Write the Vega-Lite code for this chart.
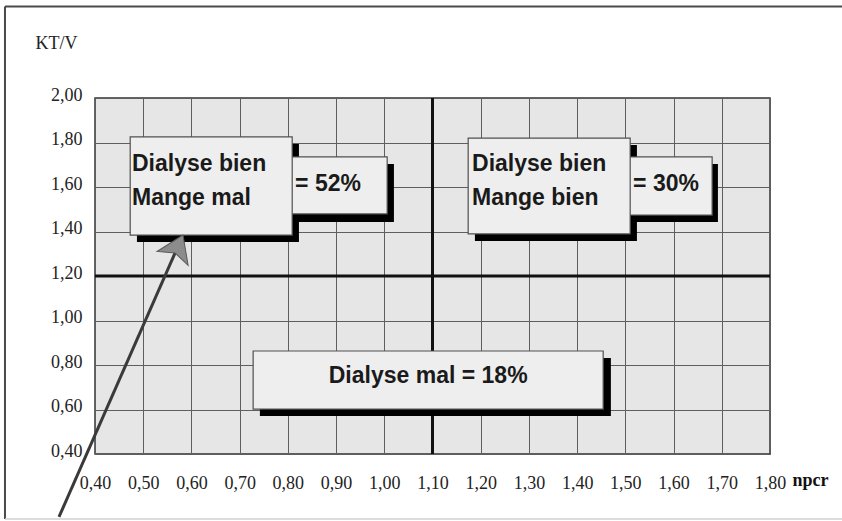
{
  "$schema": "https://vega.github.io/schema/vega-lite/v6.json",
  "width": 675,
  "height": 356,
  "autosize": {"type": "none"},
  "padding": {"left": 95, "top": 98, "right": 72, "bottom": 67},
  "background": "#ffffff",
  "config": {
    "view": {"fill": "#e6e6e6", "stroke": "#333333", "strokeWidth": 1.5},
    "axis": {
      "labelFont": "Liberation Serif",
      "labelFontSize": 18,
      "labelColor": "#222222",
      "ticks": false,
      "domain": false,
      "gridColor": "#5e5e5e",
      "gridWidth": 1,
      "gridOpacity": 1
    }
  },
  "datasets": {
    "boxes": [
      {"x": 0.794, "x2": 1.006, "y": 1.479, "y2": 1.735},
      {"x": 0.473, "x2": 0.809, "y": 1.384, "y2": 1.825},
      {"x": 1.5, "x2": 1.68, "y": 1.474, "y2": 1.735},
      {"x": 1.174, "x2": 1.51, "y": 1.389, "y2": 1.82},
      {"x": 0.728, "x2": 1.454, "y": 0.602, "y2": 0.863}
    ],
    "shadows": [
      {"x": 0.809, "x2": 1.02, "y": 1.443, "y2": 1.703},
      {"x": 0.487, "x2": 0.823, "y": 1.353, "y2": 1.793},
      {"x": 1.52, "x2": 1.692, "y": 1.443, "y2": 1.703},
      {"x": 1.188, "x2": 1.524, "y": 1.357, "y2": 1.789},
      {"x": 0.742, "x2": 1.47, "y": 0.571, "y2": 0.831}
    ],
    "texts": [
      {"label": "Dialyse bien", "x": 0.4767, "y": 1.672},
      {"label": "Mange mal", "x": 0.4767, "y": 1.519},
      {"label": "= 52%", "x": 0.815, "y": 1.582},
      {"label": "Dialyse bien", "x": 1.182, "y": 1.672},
      {"label": "Mange bien", "x": 1.182, "y": 1.519},
      {"label": "= 30%", "x": 1.516, "y": 1.582}
    ],
    "center": [
      {"label": "Dialyse mal = 18%", "x": 1.091, "y": 0.719}
    ],
    "thick": [
      {"x": 1.1, "x2": 1.1, "y": 0.4, "y2": 2.0},
      {"x": 0.4, "x2": 1.8, "y": 1.2, "y2": 1.2}
    ],
    "frame": [
      {"x": 0.2133, "x2": 1.96, "y": 2.411, "y2": 2.411},
      {"x": 0.2133, "x2": 0.2133, "y": 0.108, "y2": 2.411}
    ],
    "framebottom": [
      {"x": 0.2133, "x2": 1.96, "y": 0.108, "y2": 0.108}
    ],
    "arrow": [
      {"x": 0.3253, "y": 0.117},
      {"x": 0.571, "y": 1.328}
    ],
    "head": [
      {"x": 0.571, "y": 1.328}
    ]
  },
  "encoding": {
    "x": {
      "field": "x",
      "type": "quantitative",
      "scale": {"domain": [0.4, 1.8], "nice": false, "zero": false},
      "axis": {
        "values": [0.4, 0.5, 0.6, 0.7, 0.8, 0.9, 1.0, 1.1, 1.2, 1.3, 1.4, 1.5, 1.6, 1.7, 1.8],
        "labelExpr": "replace(format(datum.value, '.2f'), '.', ',')",
        "labelBaseline": "alphabetic",
        "labelPadding": 34,
        "labelFlush": false,
        "labelOverlap": false,
        "title": "npcr",
        "titleFont": "Liberation Serif",
        "titleFontSize": 18,
        "titleFontWeight": "bold",
        "titleColor": "#111111",
        "titleAlign": "left",
        "titleBaseline": "alphabetic",
        "titleX": 697,
        "titleY": 31
      }
    },
    "y": {
      "field": "y",
      "type": "quantitative",
      "scale": {"domain": [0.4, 2.0], "nice": false, "zero": false},
      "axis": {
        "values": [0.4, 0.6, 0.8, 1.0, 1.2, 1.4, 1.6, 1.8, 2.0],
        "labelExpr": "replace(format(datum.value, '.2f'), '.', ',')",
        "labelBaseline": "alphabetic",
        "labelOffset": 2,
        "labelPadding": 13,
        "labelFlush": false,
        "labelOverlap": false,
        "title": "KT/V",
        "titleFont": "Liberation Serif",
        "titleFontSize": 18,
        "titleFontWeight": "normal",
        "titleColor": "#222222",
        "titleAngle": 0,
        "titleAlign": "left",
        "titleBaseline": "alphabetic",
        "titleX": -60,
        "titleY": -50
      }
    }
  },
  "layer": [
    {
      "data": {"name": "thick"},
      "mark": {"type": "rule", "color": "#111111", "strokeWidth": 3, "clip": false},
      "encoding": {"x2": {"field": "x2"}, "y2": {"field": "y2"}}
    },
    {
      "data": {"name": "frame"},
      "mark": {"type": "rule", "color": "#4a4a4a", "strokeWidth": 2, "clip": false},
      "encoding": {"x2": {"field": "x2"}, "y2": {"field": "y2"}}
    },
    {
      "data": {"name": "framebottom"},
      "mark": {"type": "rule", "color": "#d0d0d0", "strokeWidth": 1.5, "clip": false},
      "encoding": {"x2": {"field": "x2"}, "y2": {"field": "y2"}}
    },
    {
      "data": {"name": "arrow"},
      "mark": {"type": "line", "color": "#3a3a3a", "strokeWidth": 3, "clip": false},
      "encoding": {}
    },
    {
      "data": {"name": "shadows"},
      "mark": {"type": "rect", "fill": "#000000", "clip": false},
      "encoding": {"x2": {"field": "x2"}, "y2": {"field": "y2"}}
    },
    {
      "data": {"name": "boxes"},
      "mark": {"type": "rect", "fill": "#eeeeee", "stroke": "#505050", "strokeWidth": 1.2, "clip": false},
      "encoding": {"x2": {"field": "x2"}, "y2": {"field": "y2"}}
    },
    {
      "data": {"name": "texts"},
      "mark": {"type": "text", "align": "left", "baseline": "alphabetic", "font": "Liberation Sans", "fontWeight": "bold", "fontSize": 23, "color": "#1a1a1a", "clip": false},
      "encoding": {"text": {"field": "label"}}
    },
    {
      "data": {"name": "center"},
      "mark": {"type": "text", "align": "center", "baseline": "alphabetic", "font": "Liberation Sans", "fontWeight": "bold", "fontSize": 23, "color": "#1a1a1a", "clip": false},
      "encoding": {"text": {"field": "label"}}
    },
    {
      "data": {"name": "head"},
      "mark": {"type": "point", "shape": "M0,-0.8L1,0.7L0,0.35L-1,0.7Z", "size": 1156, "angle": 24, "filled": true, "fill": "#8c8c8c", "stroke": "#5a5a5a", "strokeWidth": 1, "opacity": 1, "clip": false},
      "encoding": {}
    }
  ]
}
